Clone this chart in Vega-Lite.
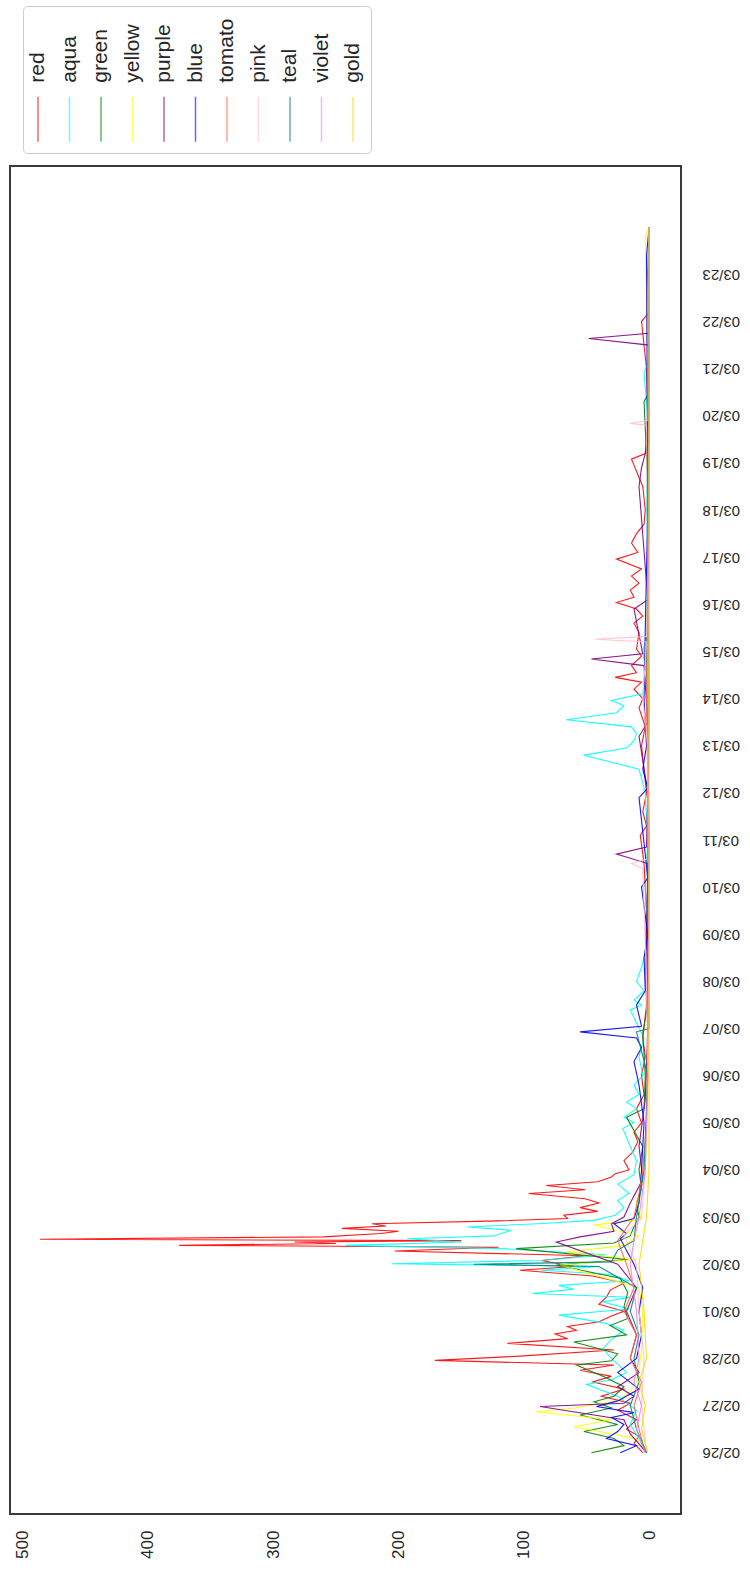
{
  "$schema": "https://vega.github.io/schema/vega-lite/v6.json",
  "width": 671,
  "height": 1348,
  "padding": {"left": 10, "top": 5, "right": 5, "bottom": 5},
  "background": "white",
  "config": {
    "view": {"stroke": "#3a3a3a", "strokeWidth": 2},
    "axis": {"labelFont": "Liberation Sans", "labelColor": "#262626", "grid": false, "domain": false, "ticks": false, "title": null},
    "legend": {"labelFont": "Liberation Sans", "labelColor": "#262626"},
    "style": {"guide-label": {"angle": -90}}
  },
  "data": {
    "values": [
      {"s":"red","t":"2021-02-26T00:00","v":5},{"s":"red","t":"2021-02-26T04:48","v":12},{"s":"red","t":"2021-02-26T08:24","v":8},{"s":"red","t":"2021-02-26T12:00","v":18},{"s":"red","t":"2021-02-26T16:48","v":10},{"s":"red","t":"2021-02-26T21:36","v":25},
      {"s":"red","t":"2021-02-27T01:12","v":15},{"s":"red","t":"2021-02-27T04:48","v":38},{"s":"red","t":"2021-02-27T08:24","v":20},{"s":"red","t":"2021-02-27T12:00","v":45},{"s":"red","t":"2021-02-27T14:53","v":30},{"s":"red","t":"2021-02-27T18:00","v":55},{"s":"red","t":"2021-02-27T20:38","v":28},{"s":"red","t":"2021-02-27T23:02","v":171},
      {"s":"red","t":"2021-02-28T01:12","v":103},{"s":"red","t":"2021-02-28T04:19","v":28},{"s":"red","t":"2021-02-28T07:41","v":113},{"s":"red","t":"2021-02-28T10:05","v":65},{"s":"red","t":"2021-02-28T12:29","v":75},{"s":"red","t":"2021-02-28T14:24","v":58},{"s":"red","t":"2021-02-28T16:19","v":65},{"s":"red","t":"2021-02-28T18:43","v":40},{"s":"red","t":"2021-02-28T21:36","v":30},
      {"s":"red","t":"2021-03-01T00:00","v":20},{"s":"red","t":"2021-03-01T03:36","v":40},{"s":"red","t":"2021-03-01T07:12","v":34},{"s":"red","t":"2021-03-01T10:48","v":31},{"s":"red","t":"2021-03-01T14:24","v":20},{"s":"red","t":"2021-03-01T18:00","v":45},{"s":"red","t":"2021-03-01T20:53","v":103},{"s":"red","t":"2021-03-01T22:48","v":60},
      {"s":"red","t":"2021-03-02T01:55","v":86},{"s":"red","t":"2021-03-02T04:19","v":50},{"s":"red","t":"2021-03-02T06:43","v":203},{"s":"red","t":"2021-03-02T08:38","v":120},{"s":"red","t":"2021-03-02T09:36","v":375},{"s":"red","t":"2021-03-02T10:34","v":250},{"s":"red","t":"2021-03-02T11:17","v":283},{"s":"red","t":"2021-03-02T12:00","v":150},{"s":"red","t":"2021-03-02T12:43","v":486},{"s":"red","t":"2021-03-02T13:55","v":260},{"s":"red","t":"2021-03-02T15:36","v":214},{"s":"red","t":"2021-03-02T16:48","v":200},{"s":"red","t":"2021-03-02T18:14","v":245},{"s":"red","t":"2021-03-02T19:26","v":210},{"s":"red","t":"2021-03-02T20:38","v":221},{"s":"red","t":"2021-03-02T22:05","v":120},{"s":"red","t":"2021-03-02T23:17","v":65},
      {"s":"red","t":"2021-03-03T00:58","v":68},{"s":"red","t":"2021-03-03T02:53","v":41},{"s":"red","t":"2021-03-03T04:48","v":55},{"s":"red","t":"2021-03-03T07:12","v":40},{"s":"red","t":"2021-03-03T09:22","v":51},{"s":"red","t":"2021-03-03T12:00","v":96},{"s":"red","t":"2021-03-03T13:55","v":51},{"s":"red","t":"2021-03-03T16:05","v":82},{"s":"red","t":"2021-03-03T18:00","v":41},{"s":"red","t":"2021-03-03T20:24","v":30},{"s":"red","t":"2021-03-03T22:05","v":27},
      {"s":"red","t":"2021-03-04T00:00","v":16},{"s":"red","t":"2021-03-04T04:48","v":20},{"s":"red","t":"2021-03-04T09:07","v":13},{"s":"red","t":"2021-03-04T14:24","v":9},{"s":"red","t":"2021-03-04T19:12","v":12},
      {"s":"red","t":"2021-03-05T00:00","v":6},{"s":"red","t":"2021-03-05T07:12","v":10},{"s":"red","t":"2021-03-05T14:24","v":4},{"s":"red","t":"2021-03-06T00:00","v":6},{"s":"red","t":"2021-03-06T09:36","v":3},{"s":"red","t":"2021-03-06T19:12","v":5},
      {"s":"red","t":"2021-03-07T12:00","v":2},{"s":"red","t":"2021-03-08T12:00","v":3},{"s":"red","t":"2021-03-09T12:00","v":2},{"s":"red","t":"2021-03-10T12:00","v":4},{"s":"red","t":"2021-03-11T02:24","v":7},{"s":"red","t":"2021-03-11T07:12","v":2},{"s":"red","t":"2021-03-11T14:24","v":5},
      {"s":"red","t":"2021-03-12T00:00","v":2},{"s":"red","t":"2021-03-12T12:00","v":4},{"s":"red","t":"2021-03-13T00:00","v":6},{"s":"red","t":"2021-03-13T09:36","v":3},{"s":"red","t":"2021-03-13T19:12","v":8},
      {"s":"red","t":"2021-03-14T00:00","v":5},{"s":"red","t":"2021-03-14T04:48","v":12},{"s":"red","t":"2021-03-14T08:24","v":6},{"s":"red","t":"2021-03-14T10:48","v":27},{"s":"red","t":"2021-03-14T13:12","v":10},{"s":"red","t":"2021-03-14T16:48","v":14},{"s":"red","t":"2021-03-14T21:36","v":6},
      {"s":"red","t":"2021-03-15T01:12","v":10},{"s":"red","t":"2021-03-15T09:36","v":8},{"s":"red","t":"2021-03-15T14:24","v":12},{"s":"red","t":"2021-03-15T18:00","v":5},{"s":"red","t":"2021-03-15T21:36","v":10},
      {"s":"red","t":"2021-03-16T00:58","v":26},{"s":"red","t":"2021-03-16T03:36","v":12},{"s":"red","t":"2021-03-16T07:12","v":15},{"s":"red","t":"2021-03-16T10:48","v":8},{"s":"red","t":"2021-03-16T14:24","v":14},{"s":"red","t":"2021-03-16T18:00","v":6},{"s":"red","t":"2021-03-16T23:02","v":26},
      {"s":"red","t":"2021-03-17T02:24","v":9},{"s":"red","t":"2021-03-17T07:12","v":14},{"s":"red","t":"2021-03-17T12:00","v":10},{"s":"red","t":"2021-03-17T16:48","v":4},{"s":"red","t":"2021-03-18T00:00","v":3},{"s":"red","t":"2021-03-18T12:00","v":5},
      {"s":"red","t":"2021-03-19T01:55","v":14},{"s":"red","t":"2021-03-19T04:48","v":3},{"s":"red","t":"2021-03-20T00:00","v":1},{"s":"red","t":"2021-03-21T00:00","v":2},{"s":"red","t":"2021-03-22T00:00","v":6},{"s":"red","t":"2021-03-22T04:48","v":0},{"s":"red","t":"2021-03-23T00:00","v":1},{"s":"red","t":"2021-03-24T00:00","v":0},

      {"s":"aqua","t":"2021-02-26T00:00","v":3},{"s":"aqua","t":"2021-02-26T07:12","v":8},{"s":"aqua","t":"2021-02-26T14:24","v":15},{"s":"aqua","t":"2021-02-26T21:36","v":10},
      {"s":"aqua","t":"2021-02-27T04:48","v":25},{"s":"aqua","t":"2021-02-27T10:48","v":50},{"s":"aqua","t":"2021-02-27T13:12","v":30},{"s":"aqua","t":"2021-02-27T16:48","v":18},
      {"s":"aqua","t":"2021-02-28T00:00","v":30},{"s":"aqua","t":"2021-02-28T05:02","v":37},{"s":"aqua","t":"2021-02-28T09:36","v":30},{"s":"aqua","t":"2021-02-28T14:24","v":20},{"s":"aqua","t":"2021-02-28T18:00","v":35},{"s":"aqua","t":"2021-02-28T22:05","v":72},
      {"s":"aqua","t":"2021-03-01T01:12","v":16},{"s":"aqua","t":"2021-03-01T04:48","v":37},{"s":"aqua","t":"2021-03-01T07:12","v":15},{"s":"aqua","t":"2021-03-01T09:07","v":93},{"s":"aqua","t":"2021-03-01T11:17","v":60},{"s":"aqua","t":"2021-03-01T13:12","v":72},{"s":"aqua","t":"2021-03-01T15:36","v":16},{"s":"aqua","t":"2021-03-01T18:43","v":30},{"s":"aqua","t":"2021-03-01T20:53","v":86},{"s":"aqua","t":"2021-03-01T22:48","v":40},
      {"s":"aqua","t":"2021-03-02T00:14","v":205},{"s":"aqua","t":"2021-03-02T01:55","v":86},{"s":"aqua","t":"2021-03-02T04:48","v":34},{"s":"aqua","t":"2021-03-02T07:55","v":117},{"s":"aqua","t":"2021-03-02T09:36","v":242},{"s":"aqua","t":"2021-03-02T11:17","v":150},{"s":"aqua","t":"2021-03-02T12:58","v":193},{"s":"aqua","t":"2021-03-02T14:24","v":124},{"s":"aqua","t":"2021-03-02T17:17","v":110},{"s":"aqua","t":"2021-03-02T18:58","v":145},{"s":"aqua","t":"2021-03-02T20:38","v":89},{"s":"aqua","t":"2021-03-02T22:19","v":44},
      {"s":"aqua","t":"2021-03-03T00:58","v":27},{"s":"aqua","t":"2021-03-03T04:48","v":20},{"s":"aqua","t":"2021-03-03T08:24","v":25},{"s":"aqua","t":"2021-03-03T12:00","v":16},{"s":"aqua","t":"2021-03-03T16:48","v":25},{"s":"aqua","t":"2021-03-03T21:36","v":12},
      {"s":"aqua","t":"2021-03-04T04:48","v":10},{"s":"aqua","t":"2021-03-04T12:00","v":15},{"s":"aqua","t":"2021-03-04T21:07","v":21},
      {"s":"aqua","t":"2021-03-05T00:00","v":12},{"s":"aqua","t":"2021-03-05T02:53","v":20},{"s":"aqua","t":"2021-03-05T07:12","v":10},{"s":"aqua","t":"2021-03-05T10:34","v":18},{"s":"aqua","t":"2021-03-05T14:24","v":8},{"s":"aqua","t":"2021-03-05T19:12","v":12},
      {"s":"aqua","t":"2021-03-06T00:00","v":5},{"s":"aqua","t":"2021-03-06T09:36","v":8},{"s":"aqua","t":"2021-03-06T19:12","v":4},
      {"s":"aqua","t":"2021-03-07T09:22","v":15},{"s":"aqua","t":"2021-03-07T12:00","v":6},{"s":"aqua","t":"2021-03-07T14:24","v":12},{"s":"aqua","t":"2021-03-07T19:12","v":4},
      {"s":"aqua","t":"2021-03-08T00:00","v":10},{"s":"aqua","t":"2021-03-08T07:12","v":6},{"s":"aqua","t":"2021-03-08T14:24","v":3},{"s":"aqua","t":"2021-03-09T00:00","v":1},{"s":"aqua","t":"2021-03-10T00:00","v":3},{"s":"aqua","t":"2021-03-11T00:00","v":1},
      {"s":"aqua","t":"2021-03-12T00:00","v":3},{"s":"aqua","t":"2021-03-12T12:00","v":8},{"s":"aqua","t":"2021-03-12T19:12","v":52},{"s":"aqua","t":"2021-03-12T22:48","v":18},
      {"s":"aqua","t":"2021-03-13T02:24","v":12},{"s":"aqua","t":"2021-03-13T06:00","v":10},{"s":"aqua","t":"2021-03-13T09:36","v":14},{"s":"aqua","t":"2021-03-13T13:12","v":66},{"s":"aqua","t":"2021-03-13T16:48","v":26},{"s":"aqua","t":"2021-03-13T20:24","v":20},{"s":"aqua","t":"2021-03-13T23:02","v":30},
      {"s":"aqua","t":"2021-03-14T02:24","v":5},{"s":"aqua","t":"2021-03-14T12:00","v":2},{"s":"aqua","t":"2021-03-15T00:00","v":5},{"s":"aqua","t":"2021-03-15T12:00","v":1},{"s":"aqua","t":"2021-03-16T00:00","v":2},{"s":"aqua","t":"2021-03-17T00:00","v":1},{"s":"aqua","t":"2021-03-18T00:00","v":2},
      {"s":"aqua","t":"2021-03-20T00:00","v":1},{"s":"aqua","t":"2021-03-20T21:36","v":4},{"s":"aqua","t":"2021-03-21T04:48","v":0},{"s":"aqua","t":"2021-03-22T12:00","v":1},{"s":"aqua","t":"2021-03-24T00:00","v":0},

      {"s":"green","t":"2021-02-26T00:00","v":46},{"s":"green","t":"2021-02-26T03:36","v":20},{"s":"green","t":"2021-02-26T07:12","v":28},{"s":"green","t":"2021-02-26T10:48","v":52},{"s":"green","t":"2021-02-26T14:24","v":25},{"s":"green","t":"2021-02-26T19:12","v":55},{"s":"green","t":"2021-02-26T22:48","v":30},
      {"s":"green","t":"2021-02-27T01:55","v":44},{"s":"green","t":"2021-02-27T04:48","v":28},{"s":"green","t":"2021-02-27T09:36","v":20},{"s":"green","t":"2021-02-27T14:24","v":35},{"s":"green","t":"2021-02-27T20:38","v":58},{"s":"green","t":"2021-02-27T22:48","v":30},
      {"s":"green","t":"2021-02-28T02:24","v":25},{"s":"green","t":"2021-02-28T08:24","v":60},{"s":"green","t":"2021-02-28T12:00","v":18},{"s":"green","t":"2021-02-28T16:48","v":31},{"s":"green","t":"2021-02-28T20:24","v":17},
      {"s":"green","t":"2021-03-01T02:24","v":20},{"s":"green","t":"2021-03-01T09:36","v":17},{"s":"green","t":"2021-03-01T16:48","v":23},{"s":"green","t":"2021-03-01T23:31","v":74},
      {"s":"green","t":"2021-03-02T02:24","v":17},{"s":"green","t":"2021-03-02T07:55","v":106},{"s":"green","t":"2021-03-02T10:48","v":28},{"s":"green","t":"2021-03-02T14:24","v":15},{"s":"green","t":"2021-03-02T19:12","v":12},
      {"s":"green","t":"2021-03-03T00:00","v":8},{"s":"green","t":"2021-03-03T07:12","v":10},{"s":"green","t":"2021-03-03T14:24","v":6},{"s":"green","t":"2021-03-04T00:00","v":8},{"s":"green","t":"2021-03-04T12:00","v":5},
      {"s":"green","t":"2021-03-05T02:53","v":18},{"s":"green","t":"2021-03-05T07:12","v":4},{"s":"green","t":"2021-03-06T00:00","v":3},{"s":"green","t":"2021-03-06T21:36","v":5},{"s":"green","t":"2021-03-07T12:00","v":1},
      {"s":"green","t":"2021-03-09T00:00","v":1},{"s":"green","t":"2021-03-11T00:00","v":0},{"s":"green","t":"2021-03-13T00:00","v":1},{"s":"green","t":"2021-03-15T00:00","v":2},{"s":"green","t":"2021-03-18T00:00","v":0},{"s":"green","t":"2021-03-20T07:12","v":4},{"s":"green","t":"2021-03-20T12:00","v":0},{"s":"green","t":"2021-03-24T00:00","v":0},

      {"s":"yellow","t":"2021-02-26T00:00","v":2},{"s":"yellow","t":"2021-02-26T07:12","v":10},{"s":"yellow","t":"2021-02-26T13:12","v":60},{"s":"yellow","t":"2021-02-26T16:48","v":30},{"s":"yellow","t":"2021-02-26T20:53","v":90},{"s":"yellow","t":"2021-02-26T22:48","v":60},
      {"s":"yellow","t":"2021-02-27T02:24","v":25},{"s":"yellow","t":"2021-02-27T07:12","v":15},{"s":"yellow","t":"2021-02-27T12:00","v":10},{"s":"yellow","t":"2021-02-27T19:12","v":8},{"s":"yellow","t":"2021-02-28T04:48","v":6},
      {"s":"yellow","t":"2021-03-01T00:00","v":5},{"s":"yellow","t":"2021-03-01T12:00","v":8},{"s":"yellow","t":"2021-03-01T23:31","v":71},
      {"s":"yellow","t":"2021-03-02T02:24","v":10},{"s":"yellow","t":"2021-03-02T06:14","v":66},{"s":"yellow","t":"2021-03-02T09:36","v":20},{"s":"yellow","t":"2021-03-02T14:24","v":8},{"s":"yellow","t":"2021-03-02T19:55","v":44},{"s":"yellow","t":"2021-03-02T22:48","v":6},
      {"s":"yellow","t":"2021-03-03T07:12","v":10},{"s":"yellow","t":"2021-03-03T19:12","v":4},{"s":"yellow","t":"2021-03-04T12:00","v":2},{"s":"yellow","t":"2021-03-06T00:00","v":1},{"s":"yellow","t":"2021-03-08T00:00","v":0},{"s":"yellow","t":"2021-03-12T00:00","v":1},{"s":"yellow","t":"2021-03-16T00:00","v":0},{"s":"yellow","t":"2021-03-20T00:00","v":0},{"s":"yellow","t":"2021-03-23T19:12","v":3},{"s":"yellow","t":"2021-03-24T00:00","v":0},

      {"s":"purple","t":"2021-02-26T00:00","v":2},{"s":"purple","t":"2021-02-26T09:36","v":15},{"s":"purple","t":"2021-02-26T16:48","v":20},{"s":"purple","t":"2021-02-26T23:31","v":87},
      {"s":"purple","t":"2021-02-27T01:12","v":20},{"s":"purple","t":"2021-02-27T04:48","v":12},{"s":"purple","t":"2021-02-27T09:36","v":25},{"s":"purple","t":"2021-02-27T16:48","v":8},
      {"s":"purple","t":"2021-02-28T00:00","v":15},{"s":"purple","t":"2021-02-28T12:00","v":10},{"s":"purple","t":"2021-03-01T00:00","v":18},{"s":"purple","t":"2021-03-01T12:00","v":10},
      {"s":"purple","t":"2021-03-02T00:00","v":25},{"s":"purple","t":"2021-03-02T11:17","v":74},{"s":"purple","t":"2021-03-02T13:55","v":55},{"s":"purple","t":"2021-03-02T16:48","v":28},{"s":"purple","t":"2021-03-02T20:38","v":30},
      {"s":"purple","t":"2021-03-03T00:00","v":20},{"s":"purple","t":"2021-03-03T07:12","v":15},{"s":"purple","t":"2021-03-03T19:12","v":5},{"s":"purple","t":"2021-03-04T12:00","v":8},{"s":"purple","t":"2021-03-05T12:00","v":3},
      {"s":"purple","t":"2021-03-07T00:00","v":1},{"s":"purple","t":"2021-03-09T00:00","v":2},{"s":"purple","t":"2021-03-10T12:00","v":1},{"s":"purple","t":"2021-03-10T16:48","v":26},{"s":"purple","t":"2021-03-10T20:24","v":2},
      {"s":"purple","t":"2021-03-12T00:00","v":1},{"s":"purple","t":"2021-03-13T04:48","v":8},{"s":"purple","t":"2021-03-13T12:00","v":1},{"s":"purple","t":"2021-03-14T16:48","v":4},{"s":"purple","t":"2021-03-14T20:10","v":46},{"s":"purple","t":"2021-03-14T22:48","v":5},
      {"s":"purple","t":"2021-03-15T21:36","v":12},{"s":"purple","t":"2021-03-16T02:24","v":1},{"s":"purple","t":"2021-03-18T12:00","v":8},{"s":"purple","t":"2021-03-18T21:36","v":6},{"s":"purple","t":"2021-03-19T12:00","v":0},
      {"s":"purple","t":"2021-03-21T12:00","v":0},{"s":"purple","t":"2021-03-21T15:22","v":48},{"s":"purple","t":"2021-03-21T18:00","v":0},{"s":"purple","t":"2021-03-24T00:00","v":0},

      {"s":"blue","t":"2021-02-26T00:00","v":23},{"s":"blue","t":"2021-02-26T03:36","v":10},{"s":"blue","t":"2021-02-26T07:12","v":34},{"s":"blue","t":"2021-02-26T10:48","v":25},{"s":"blue","t":"2021-02-26T14:24","v":20},{"s":"blue","t":"2021-02-26T18:00","v":30},{"s":"blue","t":"2021-02-26T20:24","v":12},{"s":"blue","t":"2021-02-26T23:31","v":42},
      {"s":"blue","t":"2021-02-27T02:24","v":25},{"s":"blue","t":"2021-02-27T08:24","v":8},{"s":"blue","t":"2021-02-27T16:48","v":25},{"s":"blue","t":"2021-02-28T00:00","v":10},{"s":"blue","t":"2021-02-28T12:00","v":6},
      {"s":"blue","t":"2021-03-01T00:00","v":8},{"s":"blue","t":"2021-03-01T12:00","v":5},{"s":"blue","t":"2021-03-02T00:00","v":12},{"s":"blue","t":"2021-03-02T12:58","v":23},{"s":"blue","t":"2021-03-02T15:36","v":18},{"s":"blue","t":"2021-03-02T20:38","v":28},{"s":"blue","t":"2021-03-02T23:17","v":12},
      {"s":"blue","t":"2021-03-03T07:12","v":8},{"s":"blue","t":"2021-03-04T00:00","v":6},{"s":"blue","t":"2021-03-05T00:00","v":4},{"s":"blue","t":"2021-03-05T19:12","v":8},
      {"s":"blue","t":"2021-03-06T07:12","v":12},{"s":"blue","t":"2021-03-06T14:24","v":6},{"s":"blue","t":"2021-03-06T19:12","v":10},{"s":"blue","t":"2021-03-06T22:19","v":55},
      {"s":"blue","t":"2021-03-07T01:12","v":6},{"s":"blue","t":"2021-03-07T12:00","v":10},{"s":"blue","t":"2021-03-07T19:12","v":3},{"s":"blue","t":"2021-03-08T12:00","v":4},{"s":"blue","t":"2021-03-09T00:00","v":1},
      {"s":"blue","t":"2021-03-10T00:00","v":6},{"s":"blue","t":"2021-03-10T04:48","v":1},{"s":"blue","t":"2021-03-11T21:36","v":8},{"s":"blue","t":"2021-03-12T02:24","v":1},{"s":"blue","t":"2021-03-12T12:00","v":5},
      {"s":"blue","t":"2021-03-13T00:00","v":2},{"s":"blue","t":"2021-03-14T00:00","v":4},{"s":"blue","t":"2021-03-15T12:00","v":3},{"s":"blue","t":"2021-03-18T00:00","v":1},{"s":"blue","t":"2021-03-23T09:36","v":2},{"s":"blue","t":"2021-03-24T00:00","v":0},

      {"s":"tomato","t":"2021-02-26T00:00","v":3},{"s":"tomato","t":"2021-02-26T12:00","v":8},{"s":"tomato","t":"2021-02-27T00:00","v":12},{"s":"tomato","t":"2021-02-27T12:00","v":6},{"s":"tomato","t":"2021-02-28T00:00","v":15},{"s":"tomato","t":"2021-02-28T12:00","v":10},
      {"s":"tomato","t":"2021-03-01T00:00","v":20},{"s":"tomato","t":"2021-03-01T12:00","v":12},{"s":"tomato","t":"2021-03-02T00:00","v":18},{"s":"tomato","t":"2021-03-02T12:00","v":25},{"s":"tomato","t":"2021-03-03T00:00","v":12},{"s":"tomato","t":"2021-03-03T12:00","v":8},
      {"s":"tomato","t":"2021-03-04T00:00","v":5},{"s":"tomato","t":"2021-03-05T00:00","v":2},{"s":"tomato","t":"2021-03-07T00:00","v":1},{"s":"tomato","t":"2021-03-10T00:00","v":0},{"s":"tomato","t":"2021-03-14T00:00","v":2},{"s":"tomato","t":"2021-03-18T00:00","v":0},{"s":"tomato","t":"2021-03-24T00:00","v":0},

      {"s":"pink","t":"2021-02-26T00:00","v":2},{"s":"pink","t":"2021-02-27T00:00","v":6},{"s":"pink","t":"2021-02-28T00:00","v":4},{"s":"pink","t":"2021-03-01T00:00","v":8},{"s":"pink","t":"2021-03-02T00:00","v":10},{"s":"pink","t":"2021-03-02T14:24","v":20},
      {"s":"pink","t":"2021-03-03T00:00","v":6},{"s":"pink","t":"2021-03-04T00:00","v":3},{"s":"pink","t":"2021-03-06T00:00","v":1},{"s":"pink","t":"2021-03-08T00:00","v":2},{"s":"pink","t":"2021-03-10T09:36","v":5},{"s":"pink","t":"2021-03-10T12:00","v":14},{"s":"pink","t":"2021-03-10T14:24","v":1},
      {"s":"pink","t":"2021-03-13T00:00","v":1},{"s":"pink","t":"2021-03-14T00:00","v":5},{"s":"pink","t":"2021-03-15T04:48","v":2},{"s":"pink","t":"2021-03-15T06:14","v":43},{"s":"pink","t":"2021-03-15T07:41","v":2},
      {"s":"pink","t":"2021-03-17T00:00","v":1},{"s":"pink","t":"2021-03-19T19:12","v":2},{"s":"pink","t":"2021-03-19T20:10","v":15},{"s":"pink","t":"2021-03-19T21:36","v":1},{"s":"pink","t":"2021-03-24T00:00","v":0},

      {"s":"teal","t":"2021-02-26T00:00","v":2},{"s":"teal","t":"2021-02-26T12:00","v":10},{"s":"teal","t":"2021-02-27T00:00","v":15},{"s":"teal","t":"2021-02-27T12:00","v":8},{"s":"teal","t":"2021-02-28T00:00","v":12},{"s":"teal","t":"2021-02-28T12:00","v":8},
      {"s":"teal","t":"2021-03-01T00:00","v":15},{"s":"teal","t":"2021-03-01T12:00","v":10},{"s":"teal","t":"2021-03-01T22:48","v":40},{"s":"teal","t":"2021-03-02T00:00","v":140},{"s":"teal","t":"2021-03-02T01:12","v":30},{"s":"teal","t":"2021-03-02T07:12","v":25},{"s":"teal","t":"2021-03-02T12:00","v":12},
      {"s":"teal","t":"2021-03-03T00:00","v":10},{"s":"teal","t":"2021-03-04T00:00","v":4},{"s":"teal","t":"2021-03-06T00:00","v":1},{"s":"teal","t":"2021-03-06T22:19","v":10},{"s":"teal","t":"2021-03-07T00:00","v":0},
      {"s":"teal","t":"2021-03-10T00:00","v":1},{"s":"teal","t":"2021-03-14T00:00","v":0},{"s":"teal","t":"2021-03-18T00:00","v":1},{"s":"teal","t":"2021-03-24T00:00","v":0},

      {"s":"violet","t":"2021-02-26T00:00","v":3},{"s":"violet","t":"2021-02-26T12:00","v":10},{"s":"violet","t":"2021-02-27T00:00","v":6},{"s":"violet","t":"2021-02-27T12:00","v":12},{"s":"violet","t":"2021-02-28T00:00","v":8},
      {"s":"violet","t":"2021-03-01T00:00","v":10},{"s":"violet","t":"2021-03-02T00:00","v":15},{"s":"violet","t":"2021-03-02T12:00","v":12},{"s":"violet","t":"2021-03-03T00:00","v":8},{"s":"violet","t":"2021-03-04T00:00","v":3},
      {"s":"violet","t":"2021-03-06T00:00","v":1},{"s":"violet","t":"2021-03-10T00:00","v":0},{"s":"violet","t":"2021-03-14T00:00","v":1},{"s":"violet","t":"2021-03-18T00:00","v":0},{"s":"violet","t":"2021-03-24T00:00","v":0},

      {"s":"gold","t":"2021-02-26T00:00","v":1},{"s":"gold","t":"2021-02-26T12:00","v":6},{"s":"gold","t":"2021-02-27T00:00","v":3},{"s":"gold","t":"2021-02-27T12:00","v":8},{"s":"gold","t":"2021-02-28T00:00","v":2},
      {"s":"gold","t":"2021-03-01T00:00","v":4},{"s":"gold","t":"2021-03-02T00:00","v":8},{"s":"gold","t":"2021-03-02T12:00","v":5},{"s":"gold","t":"2021-03-03T00:00","v":2},{"s":"gold","t":"2021-03-04T00:00","v":0},
      {"s":"gold","t":"2021-03-06T00:00","v":0},{"s":"gold","t":"2021-03-10T00:00","v":0},{"s":"gold","t":"2021-03-16T00:00","v":0},{"s":"gold","t":"2021-03-22T00:00","v":0},{"s":"gold","t":"2021-03-24T00:00","v":0}
    ]
  },
  "mark": {"type": "line", "strokeWidth": 1.1, "opacity": 0.9, "interpolate": "linear"},
  "encoding": {
    "x": {
      "field": "v",
      "type": "quantitative",
      "scale": {"domain": [-25.5, 510], "reverse": true, "nice": false, "zero": false},
      "axis": {"values": [0, 100, 200, 300, 400, 500], "labelAngle": -90, "labelFontSize": 17, "labelPadding": 16}
    },
    "y": {
      "field": "t",
      "type": "temporal",
      "scale": {"domain": [{"year": 2021, "month": 2, "date": 24, "hours": 16, "minutes": 48}, {"year": 2021, "month": 3, "date": 25, "hours": 7, "minutes": 12}], "nice": false},
      "axis": {
        "orient": "right",
        "format": "%m/%d",
        "values": [
          {"year": 2021, "month": 2, "date": 26}, {"year": 2021, "month": 2, "date": 27}, {"year": 2021, "month": 2, "date": 28},
          {"year": 2021, "month": 3, "date": 1}, {"year": 2021, "month": 3, "date": 2}, {"year": 2021, "month": 3, "date": 3},
          {"year": 2021, "month": 3, "date": 4}, {"year": 2021, "month": 3, "date": 5}, {"year": 2021, "month": 3, "date": 6},
          {"year": 2021, "month": 3, "date": 7}, {"year": 2021, "month": 3, "date": 8}, {"year": 2021, "month": 3, "date": 9},
          {"year": 2021, "month": 3, "date": 10}, {"year": 2021, "month": 3, "date": 11}, {"year": 2021, "month": 3, "date": 12},
          {"year": 2021, "month": 3, "date": 13}, {"year": 2021, "month": 3, "date": 14}, {"year": 2021, "month": 3, "date": 15},
          {"year": 2021, "month": 3, "date": 16}, {"year": 2021, "month": 3, "date": 17}, {"year": 2021, "month": 3, "date": 18},
          {"year": 2021, "month": 3, "date": 19}, {"year": 2021, "month": 3, "date": 20}, {"year": 2021, "month": 3, "date": 21},
          {"year": 2021, "month": 3, "date": 22}, {"year": 2021, "month": 3, "date": 23}
        ],
        "labelAngle": 180, "labelAlign": "right", "labelBaseline": "middle", "labelFontSize": 15, "labelPadding": 21, "labelOverlap": false, "labelFlush": false
      }
    },
    "color": {
      "field": "s",
      "type": "nominal",
      "scale": {
        "domain": ["red", "aqua", "green", "yellow", "purple", "blue", "tomato", "pink", "teal", "violet", "gold"],
        "range": ["#ff0000", "#00ffff", "#008000", "#ffff00", "#800080", "#0000ff", "#ff6347", "#ffc0cb", "#008080", "#ee82ee", "#ffd700"]
      },
      "legend": {
        "title": null,
        "orient": "none",
        "legendX": 13,
        "legendY": -160,
        "direction": "horizontal",
        "columns": 11,
        "columnPadding": 10.5,
        "padding": 8,
        "strokeColor": "#cccccc",
        "fillColor": "white",
        "cornerRadius": 4,
        "symbolType": "M0,0.207L0,0.874",
        "symbolSize": 18225,
        "symbolStrokeWidth": 1.5,
        "symbolOpacity": 0.6,
        "symbolOffset": -61.5,
        "labelFontSize": 21,
        "labelOffset": -68.5,
        "labelAlign": "left",
        "labelBaseline": "middle"
      }
    },
    "order": {"field": "t", "type": "temporal"}
  }
}
